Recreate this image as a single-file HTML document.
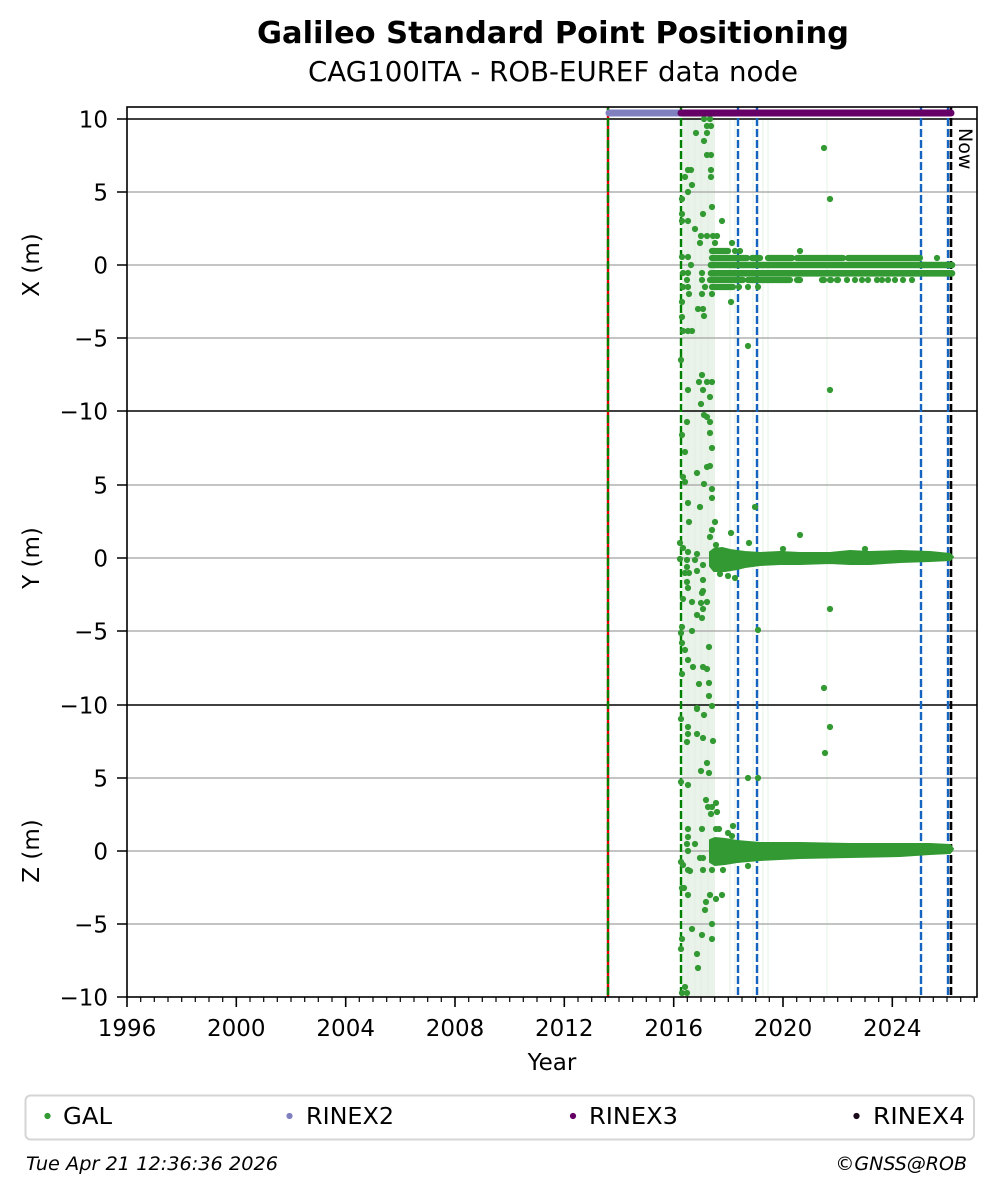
<!DOCTYPE html>
<html><head><meta charset="utf-8"><style>
html,body{margin:0;padding:0;background:#fff;}
svg{display:block;}
text{font-family:"DejaVu Sans","Liberation Sans",sans-serif;}
circle{r:3.1px;}
</style></head><body>
<svg width="997" height="1194" viewBox="0 0 997 1194" xmlns="http://www.w3.org/2000/svg">
<rect width="997" height="1194" fill="#fff"/>
<text x="553" y="43" text-anchor="middle" font-size="30" font-weight="bold" textLength="592" lengthAdjust="spacingAndGlyphs">Galileo Standard Point Positioning</text>
<text x="553" y="81" text-anchor="middle" font-size="27.5" textLength="490" lengthAdjust="spacingAndGlyphs">CAG100ITA - ROB-EUREF data node</text>

<!-- shaded error region -->
<rect x="682" y="110" width="33" height="887" fill="#eaf3ea"/>
<g stroke="#eef5ee" stroke-width="1.5">
<path d="M730 119V997M735 119V997M753 119V997M758 119V997M763 119V997M768 119V997M827 119V997"/>
</g>
<g stroke="#e2eee2" stroke-width="1">
<path d="M688 119V997M695 119V997M701 119V997M708 119V997"/>
</g>

<!-- gridlines -->
<g stroke="#b0b0b0" stroke-width="1.5">
<path d="M127 192H977M127 265H977M127 338H977M127 485H977M127 558H977M127 631H977M127 778H977M127 851H977M127 924H977"/>
</g>
<g stroke="#000" stroke-width="1.6">
<path d="M127 119H977M127 411H977M127 705H977"/>
</g>

<!-- vertical event lines -->
<path d="M608 107V997" stroke="#e00000" stroke-width="2.4"/>
<path d="M608 107V997" stroke="#008000" stroke-width="2.4" stroke-dasharray="8,3"/>
<path d="M681 107V997" stroke="#008000" stroke-width="2.4" stroke-dasharray="8,3"/>
<g stroke="#1565c0" stroke-width="2.4" stroke-dasharray="8,3">
<path d="M738 107V997M757 107V997M921 107V997M948 107V997"/>
</g>
<path d="M951 107V997" stroke="#000" stroke-width="2.6" stroke-dasharray="8,3"/>

<!-- data -->
<g fill="#339933" stroke="none">
<!-- X panel dense rows -->
<g stroke="#339933" stroke-linecap="round" fill="none">
<path stroke-width="6.6" d="M711 265H952M711 273.3H952"/>
<path stroke-width="6.2" d="M712 258H747M752 258H760M768 258H792M797 258H843M848 258H920"/>
<path stroke-width="6.2" d="M710 280H743M748 280H790M797 280H800M822 280H824M830 280H831M837 280H838"/>
<path stroke-width="6.2" d="M712 251H728M712 287H733"/>
</g>
<circle cx="847" cy="280" r="3.1"/><circle cx="855" cy="280" r="3.1"/><circle cx="862" cy="280" r="3.1"/><circle cx="868" cy="280" r="3.1"/><circle cx="877" cy="280" r="3.1"/><circle cx="882" cy="280" r="3.1"/><circle cx="888" cy="280" r="3.1"/><circle cx="895" cy="280" r="3.1"/><circle cx="903" cy="280" r="3.1"/><circle cx="912" cy="280" r="3.1"/>
<circle cx="735" cy="251" r="3.1"/><circle cx="740" cy="251" r="3.1"/>
<!-- X panel scatter -->
<circle cx="704" cy="119" r="3.1"/><circle cx="710" cy="119" r="3.1"/><circle cx="707" cy="126" r="3.1"/><circle cx="711" cy="126" r="3.1"/><circle cx="696" cy="133" r="3.1"/><circle cx="707" cy="133" r="3.1"/><circle cx="704" cy="141" r="3.1"/><circle cx="707" cy="155" r="3.1"/><circle cx="711" cy="155" r="3.1"/><circle cx="688" cy="170" r="3.1"/><circle cx="691" cy="170" r="3.1"/><circle cx="711" cy="170" r="3.1"/><circle cx="685" cy="177" r="3.1"/><circle cx="711" cy="177" r="3.1"/><circle cx="692" cy="185" r="3.1"/><circle cx="688" cy="192" r="3.1"/><circle cx="682" cy="199" r="3.1"/><circle cx="712" cy="207" r="3.1"/><circle cx="682" cy="214" r="3.1"/><circle cx="703" cy="214" r="3.1"/><circle cx="682" cy="221" r="3.1"/><circle cx="688" cy="221" r="3.1"/><circle cx="722" cy="221" r="3.1"/><circle cx="695" cy="229" r="3.1"/><circle cx="701" cy="236" r="3.1"/><circle cx="707" cy="236" r="3.1"/><circle cx="713" cy="236" r="3.1"/><circle cx="717" cy="236" r="3.1"/><circle cx="700" cy="243" r="3.1"/><circle cx="715" cy="243" r="3.1"/><circle cx="732" cy="243" r="3.1"/><circle cx="682" cy="257" r="3.1"/><circle cx="688" cy="257" r="3.1"/><circle cx="691" cy="265" r="3.1"/><circle cx="683" cy="273" r="3.1"/><circle cx="688" cy="273" r="3.1"/><circle cx="702" cy="273" r="3.1"/><circle cx="687" cy="280" r="3.1"/><circle cx="702" cy="280" r="3.1"/><circle cx="683" cy="287" r="3.1"/><circle cx="688" cy="287" r="3.1"/><circle cx="705" cy="287" r="3.1"/><circle cx="739" cy="287" r="3.1"/><circle cx="748" cy="287" r="3.1"/><circle cx="758" cy="287" r="3.1"/><circle cx="689" cy="294" r="3.1"/><circle cx="702" cy="294" r="3.1"/><circle cx="712" cy="294" r="3.1"/><circle cx="682" cy="302" r="3.1"/><circle cx="731" cy="302" r="3.1"/><circle cx="698" cy="309" r="3.1"/><circle cx="703" cy="309" r="3.1"/><circle cx="704" cy="316" r="3.1"/><circle cx="682" cy="317" r="3.1"/><circle cx="683" cy="331" r="3.1"/><circle cx="688" cy="331" r="3.1"/><circle cx="692" cy="331" r="3.1"/><circle cx="748" cy="346" r="3.1"/><circle cx="681" cy="360" r="3.1"/><circle cx="702" cy="375" r="3.1"/><circle cx="699" cy="382" r="3.1"/><circle cx="707" cy="382" r="3.1"/><circle cx="712" cy="382" r="3.1"/><circle cx="703" cy="390" r="3.1"/><circle cx="688" cy="390" r="3.1"/><circle cx="710" cy="397" r="3.1"/><circle cx="701" cy="404" r="3.1"/><circle cx="824" cy="148" r="3.1"/><circle cx="830" cy="199" r="3.1"/><circle cx="800" cy="251" r="3.1"/><circle cx="937" cy="258" r="3.1"/><circle cx="830" cy="390" r="3.1"/>

<!-- Y panel band -->
<path stroke="#339933" stroke-width="2" stroke-linejoin="round" d="M710 552L714 549L722 548L730 550L737 551L745 552L760 553L780 552L800 553L830 553L850 551L870 552L900 551L930 552L950 554L953 557L950 560L930 561L900 562L870 564L850 564L830 563L800 564L780 564L760 565L745 567L737 569L725 571L714 571L710 566Z"/>
<!-- Y panel scatter -->
<circle cx="704" cy="415" r="3.1"/><circle cx="707" cy="417" r="3.1"/><circle cx="710" cy="422" r="3.1"/><circle cx="710" cy="433" r="3.1"/><circle cx="712" cy="448" r="3.1"/><circle cx="687" cy="422" r="3.1"/><circle cx="685" cy="452" r="3.1"/><circle cx="682" cy="435" r="3.1"/><circle cx="683" cy="477" r="3.1"/><circle cx="685" cy="482" r="3.1"/><circle cx="697" cy="473" r="3.1"/><circle cx="704" cy="484" r="3.1"/><circle cx="712" cy="489" r="3.1"/><circle cx="707" cy="467" r="3.1"/><circle cx="710" cy="466" r="3.1"/><circle cx="712" cy="498" r="3.1"/><circle cx="688" cy="503" r="3.1"/><circle cx="700" cy="507" r="3.1"/><circle cx="689" cy="522" r="3.1"/><circle cx="715" cy="522" r="3.1"/><circle cx="710" cy="537" r="3.1"/><circle cx="712" cy="530" r="3.1"/><circle cx="716" cy="545" r="3.1"/><circle cx="680" cy="543" r="3.1"/><circle cx="683" cy="548" r="3.1"/><circle cx="688" cy="552" r="3.1"/><circle cx="697" cy="554" r="3.1"/><circle cx="687" cy="560" r="3.1"/><circle cx="695" cy="560" r="3.1"/><circle cx="680" cy="559" r="3.1"/><circle cx="703" cy="565" r="3.1"/><circle cx="687" cy="567" r="3.1"/><circle cx="697" cy="571" r="3.1"/><circle cx="685" cy="573" r="3.1"/><circle cx="689" cy="573" r="3.1"/><circle cx="703" cy="580" r="3.1"/><circle cx="687" cy="582" r="3.1"/><circle cx="688" cy="588" r="3.1"/><circle cx="702" cy="593" r="3.1"/><circle cx="703" cy="591" r="3.1"/><circle cx="683" cy="599" r="3.1"/><circle cx="692" cy="602" r="3.1"/><circle cx="701" cy="603" r="3.1"/><circle cx="707" cy="602" r="3.1"/><circle cx="703" cy="609" r="3.1"/><circle cx="697" cy="615" r="3.1"/><circle cx="702" cy="618" r="3.1"/><circle cx="682" cy="627" r="3.1"/><circle cx="681" cy="633" r="3.1"/><circle cx="692" cy="631" r="3.1"/><circle cx="682" cy="643" r="3.1"/><circle cx="685" cy="650" r="3.1"/><circle cx="709" cy="647" r="3.1"/><circle cx="688" cy="660" r="3.1"/><circle cx="693" cy="667" r="3.1"/><circle cx="703" cy="667" r="3.1"/><circle cx="707" cy="669" r="3.1"/><circle cx="682" cy="674" r="3.1"/><circle cx="699" cy="684" r="3.1"/><circle cx="709" cy="683" r="3.1"/><circle cx="709" cy="696" r="3.1"/><circle cx="697" cy="708" r="3.1"/>
<circle cx="731" cy="533" r="3.1"/><circle cx="749" cy="543" r="3.1"/><circle cx="755" cy="507" r="3.1"/><circle cx="800" cy="535" r="3.1"/><circle cx="758" cy="630" r="3.1"/><circle cx="830" cy="609" r="3.1"/><circle cx="824" cy="688" r="3.1"/><circle cx="783" cy="549" r="3.1"/><circle cx="865" cy="549" r="3.1"/><circle cx="728" cy="576" r="3.1"/><circle cx="735" cy="578" r="3.1"/><circle cx="720" cy="574" r="3.1"/><circle cx="716" cy="558" r="3.1"/><circle cx="722" cy="551" r="3.1"/>

<!-- Z panel band -->
<path stroke="#339933" stroke-width="2" stroke-linejoin="round" d="M710 840L715 838L725 839L737 841L760 843L800 843L850 844L900 844L930 844L950 845L953 849L950 853L930 854L900 856L850 857L800 858L760 860L737 862L725 864L715 865L710 862Z"/>
<!-- Z panel scatter -->
<circle cx="697" cy="709" r="3.1"/><circle cx="704" cy="715" r="3.1"/><circle cx="712" cy="706" r="3.1"/><circle cx="681" cy="719" r="3.1"/><circle cx="688" cy="727" r="3.1"/><circle cx="688" cy="734" r="3.1"/><circle cx="697" cy="734" r="3.1"/><circle cx="703" cy="738" r="3.1"/><circle cx="687" cy="742" r="3.1"/><circle cx="713" cy="741" r="3.1"/><circle cx="707" cy="763" r="3.1"/><circle cx="701" cy="771" r="3.1"/><circle cx="709" cy="773" r="3.1"/><circle cx="681" cy="782" r="3.1"/><circle cx="688" cy="785" r="3.1"/><circle cx="706" cy="800" r="3.1"/><circle cx="716" cy="803" r="3.1"/><circle cx="708" cy="807" r="3.1"/><circle cx="712" cy="807" r="3.1"/><circle cx="717" cy="812" r="3.1"/><circle cx="711" cy="814" r="3.1"/><circle cx="688" cy="829" r="3.1"/><circle cx="702" cy="829" r="3.1"/><circle cx="716" cy="829" r="3.1"/><circle cx="719" cy="829" r="3.1"/><circle cx="733" cy="826" r="3.1"/><circle cx="688" cy="837" r="3.1"/><circle cx="728" cy="833" r="3.1"/><circle cx="732" cy="836" r="3.1"/><circle cx="687" cy="844" r="3.1"/><circle cx="695" cy="844" r="3.1"/><circle cx="688" cy="851" r="3.1"/><circle cx="700" cy="858" r="3.1"/><circle cx="703" cy="858" r="3.1"/><circle cx="681" cy="862" r="3.1"/><circle cx="683" cy="865" r="3.1"/><circle cx="688" cy="870" r="3.1"/><circle cx="690" cy="871" r="3.1"/><circle cx="703" cy="870" r="3.1"/><circle cx="712" cy="870" r="3.1"/><circle cx="723" cy="870" r="3.1"/><circle cx="748" cy="866" r="3.1"/><circle cx="682" cy="888" r="3.1"/><circle cx="684" cy="888" r="3.1"/><circle cx="688" cy="895" r="3.1"/><circle cx="710" cy="895" r="3.1"/><circle cx="716" cy="899" r="3.1"/><circle cx="722" cy="895" r="3.1"/><circle cx="706" cy="902" r="3.1"/><circle cx="705" cy="910" r="3.1"/><circle cx="712" cy="924" r="3.1"/><circle cx="692" cy="929" r="3.1"/><circle cx="702" cy="935" r="3.1"/><circle cx="712" cy="939" r="3.1"/><circle cx="682" cy="939" r="3.1"/><circle cx="681" cy="949" r="3.1"/><circle cx="697" cy="954" r="3.1"/><circle cx="698" cy="968" r="3.1"/><circle cx="685" cy="987" r="3.1"/><circle cx="682" cy="993" r="3.1"/><circle cx="687" cy="993" r="3.1"/>
<circle cx="748" cy="778" r="3.1"/><circle cx="758" cy="778" r="3.1"/><circle cx="825" cy="753" r="3.1"/><circle cx="830" cy="727" r="3.1"/><circle cx="714" cy="850" r="3.1"/><circle cx="720" cy="858" r="3.1"/>
</g>

<!-- RINEX bars -->
<path d="M609 113H680" stroke="#8080c0" stroke-width="7" stroke-linecap="round"/>
<path d="M681 113H951" stroke="#660066" stroke-width="7" stroke-linecap="round"/>

<!-- Now label -->
<text transform="translate(959,128) rotate(90)" font-size="19">Now</text>

<!-- frame -->
<rect x="127" y="107" width="850" height="890" fill="none" stroke="#000" stroke-width="1.6"/>

<!-- y ticks -->
<g stroke="#000" stroke-width="1.6">
<path d="M117 119H127M117 192H127M117 265H127M117 338H127M117 411H127M117 485H127M117 558H127M117 631H127M117 705H127M117 778H127M117 851H127M117 924H127M117 997H127"/>
</g>
<g font-size="23" text-anchor="end">
<text x="108" y="127.5">10</text>
<text x="108" y="200.5">5</text>
<text x="108" y="273.5">0</text>
<text x="108" y="346.5">−5</text>
<text x="108" y="419.5">−10</text>
<text x="108" y="493.5">5</text>
<text x="108" y="566.5">0</text>
<text x="108" y="639.5">−5</text>
<text x="108" y="713.5">−10</text>
<text x="108" y="786.5">5</text>
<text x="108" y="859.5">0</text>
<text x="108" y="932.5">−5</text>
<text x="108" y="1005.5">−10</text>
</g>
<g font-size="23" text-anchor="middle">
<text transform="translate(39,265) rotate(-90)">X (m)</text>
<text transform="translate(39,558) rotate(-90)">Y (m)</text>
<text transform="translate(39,851) rotate(-90)">Z (m)</text>
</g>

<!-- x ticks -->
<g stroke="#000" stroke-width="1.6">
<path d="M127 997v10M236.3 997v10M345.7 997v10M455 997v10M564.3 997v10M673.7 997v10M783 997v10M892.3 997v10"/>
</g>
<g stroke="#000" stroke-width="1.2">
<path d="M140.7 997v5M154.3 997v5M168 997v5M181.7 997v5M195.3 997v5M209 997v5M222.7 997v5M250 997v5M263.7 997v5M277.3 997v5M291 997v5M304.7 997v5M318.3 997v5M332 997v5M359.3 997v5M373 997v5M386.7 997v5M400.3 997v5M414 997v5M427.7 997v5M441.3 997v5M468.7 997v5M482.3 997v5M496 997v5M509.7 997v5M523.3 997v5M537 997v5M550.7 997v5M578 997v5M591.7 997v5M605.3 997v5M619 997v5M632.7 997v5M646.3 997v5M660 997v5M687.3 997v5M701 997v5M714.7 997v5M728.3 997v5M742 997v5M755.7 997v5M769.3 997v5M796.7 997v5M810.3 997v5M824 997v5M837.7 997v5M851.3 997v5M865 997v5M878.7 997v5M906 997v5M919.7 997v5M933.3 997v5M947 997v5M960.7 997v5M974.3 997v5"/>
</g>
<g font-size="23" text-anchor="middle">
<text x="127" y="1036">1996</text>
<text x="236.3" y="1036">2000</text>
<text x="345.7" y="1036">2004</text>
<text x="455" y="1036">2008</text>
<text x="564.3" y="1036">2012</text>
<text x="673.7" y="1036">2016</text>
<text x="783" y="1036">2020</text>
<text x="892.3" y="1036">2024</text>
<text x="552" y="1070">Year</text>
</g>

<!-- legend -->
<rect x="25.5" y="1095.5" width="948.5" height="44" rx="5" fill="#fff" stroke="#d5d5d5" stroke-width="2"/>
<circle cx="47.5" cy="1116" r="3.3" fill="#339933"/>
<circle cx="289.5" cy="1116" r="3.3" fill="#8080c0"/>
<circle cx="573" cy="1116" r="3.3" fill="#660066"/>
<circle cx="856.5" cy="1116" r="3.3" fill="#1a0a1a"/>
<g font-size="23.5">
<text x="63" y="1124" textLength="49" lengthAdjust="spacingAndGlyphs">GAL</text>
<text x="306" y="1124" textLength="88" lengthAdjust="spacingAndGlyphs">RINEX2</text>
<text x="589" y="1124" textLength="89" lengthAdjust="spacingAndGlyphs">RINEX3</text>
<text x="873" y="1124" textLength="92" lengthAdjust="spacingAndGlyphs">RINEX4</text>
</g>
<text x="26" y="1170" font-size="19" font-style="italic" textLength="252" lengthAdjust="spacingAndGlyphs">Tue Apr 21 12:36:36 2026</text>
<text x="967" y="1170" font-size="19" font-style="italic" text-anchor="end">©GNSS@ROB</text>
</svg>
</body></html>
